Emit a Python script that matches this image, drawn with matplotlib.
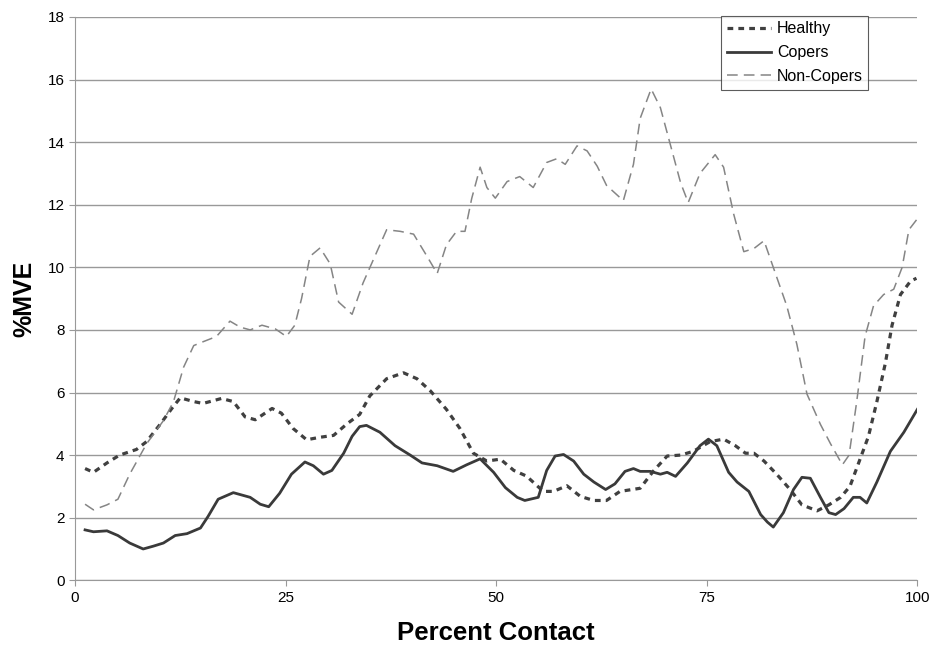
import matplotlib
matplotlib.use("Agg")
import matplotlib.pyplot as plt

plt.rcParams['font.family'] = ['Liberation Sans', 'DejaVu Sans']

# Healthy
x_healthy = [1.2, 2.2, 3.8, 5.3, 7.3, 8.5, 10.1, 11.5, 12.5, 14.1, 15.2, 17.4, 18.8, 20.2,
             21.4, 23.4, 24.5, 25.9, 27.5, 29.1, 30.7, 32.3, 33.8, 35.0, 37.0, 39.0, 40.6,
             42.2, 44.1, 45.7, 47.3, 48.9, 50.5, 52.1, 53.6, 55.6, 56.8, 58.4, 60.0, 61.6,
             63.1, 64.7, 67.1, 68.7, 70.3, 71.9, 73.4, 75.4, 77.0, 78.4, 79.6, 80.6, 81.8,
             83.3, 84.9, 86.3, 88.1, 89.5, 90.9, 92.0, 93.2, 94.2, 95.2, 96.2, 97.0, 98.0,
             99.2, 99.9]
y_healthy = [3.57, 3.45, 3.75, 4.0, 4.18, 4.43, 4.98, 5.49, 5.83, 5.71, 5.65, 5.81, 5.71, 5.22,
             5.13, 5.49, 5.34, 4.85, 4.49, 4.57, 4.63, 5.0, 5.3, 5.89, 6.44, 6.63, 6.44,
             6.05, 5.46, 4.85, 4.06, 3.81, 3.87, 3.51, 3.33, 2.84, 2.84, 3.02, 2.68, 2.55,
             2.55, 2.84, 2.94, 3.5, 3.97, 4.0, 4.12, 4.43, 4.51, 4.3, 4.06, 4.06, 3.81,
             3.39, 2.9, 2.41, 2.22, 2.41, 2.65, 3.0, 3.87, 4.6, 5.71, 6.93, 8.15, 9.13,
             9.56, 9.65]

# Copers
x_copers = [1.2, 2.2, 3.8, 5.1, 6.5, 8.1, 9.3, 10.5, 11.9, 13.3, 14.9, 15.8, 17.0, 18.8,
            20.8, 22.0, 23.0, 24.3, 25.7, 27.3, 28.3, 29.5, 30.5, 31.9, 32.9, 33.8, 34.6,
            36.2, 38.0, 39.8, 41.2, 43.0, 44.9, 46.5, 48.1, 49.7, 51.1, 52.5, 53.4, 55.0,
            56.0, 57.0, 58.0, 59.2, 60.4, 61.6, 63.0, 64.1, 65.3, 66.3, 67.1, 68.3, 69.5,
            70.3, 71.3, 72.7, 74.2, 75.2, 76.2, 77.6, 78.6, 80.0, 81.4, 82.2, 82.9, 84.1,
            85.3, 86.3, 87.3, 88.5, 89.5, 90.3, 91.3, 92.4, 93.2, 94.0, 95.2, 96.8, 98.4,
            100.0]
y_copers = [1.61, 1.55, 1.58, 1.43, 1.19, 1.0, 1.09, 1.19, 1.43, 1.49, 1.67, 2.04, 2.59, 2.8,
            2.65, 2.43, 2.35, 2.78, 3.39, 3.78, 3.66, 3.39, 3.51, 4.06, 4.6, 4.91, 4.95,
            4.73, 4.3, 4.0, 3.75, 3.66, 3.48, 3.69, 3.88, 3.45, 2.96, 2.65, 2.55, 2.65,
            3.51, 3.97, 4.02, 3.81, 3.39, 3.14, 2.9, 3.08, 3.48, 3.57, 3.48, 3.48, 3.39,
            3.45, 3.32, 3.75, 4.3, 4.51, 4.3, 3.45, 3.14, 2.84, 2.1, 1.86, 1.7, 2.16,
            2.9, 3.29, 3.26, 2.65, 2.16, 2.1, 2.29, 2.65, 2.65, 2.47, 3.14, 4.12, 4.73,
            5.46]

# Non-Copers
x_noncopers = [1.2, 2.2, 3.8, 5.1, 6.5, 8.5, 10.5, 11.7, 12.9, 14.1, 15.0, 16.8, 18.4, 19.6,
               20.8, 22.2, 23.8, 25.1, 26.1, 26.9, 27.9, 29.1, 30.3, 31.3, 32.9, 34.2, 35.4,
               37.0, 38.6, 40.2, 41.8, 43.0, 44.1, 45.3, 46.3, 47.1, 48.1, 48.9, 49.9, 51.3,
               52.8, 54.4, 56.0, 57.2, 58.2, 59.6, 60.8, 62.0, 63.1, 65.1, 66.3, 67.1, 68.4,
               69.5, 70.7, 71.9, 72.8, 74.2, 76.0, 77.0, 78.2, 79.4, 80.6, 81.8, 82.9, 84.5,
               85.7, 86.9, 88.5, 89.7, 91.1, 91.9, 92.8, 93.8, 94.8, 96.0, 97.2, 98.2, 99.0,
               100.0]
y_noncopers = [2.43, 2.25, 2.41, 2.59, 3.39, 4.36, 5.1, 5.71, 6.81, 7.5, 7.6, 7.79, 8.28, 8.09,
               8.0, 8.15, 8.03, 7.79, 8.15, 9.0, 10.35, 10.62, 10.11, 8.89, 8.5, 9.5, 10.23,
               11.2, 11.15, 11.06, 10.35, 9.8, 10.72, 11.15, 11.15, 12.2, 13.2, 12.55, 12.21, 12.74,
               12.9, 12.55, 13.35, 13.47, 13.29, 13.88, 13.72, 13.23, 12.62, 12.13, 13.29, 14.76, 15.7,
               15.1, 13.9, 12.7, 12.07, 13.0, 13.6, 13.2, 11.7, 10.5, 10.6, 10.85, 10.0, 8.77,
               7.54, 5.95, 4.98, 4.36, 3.69, 4.0, 5.7, 7.8, 8.77, 9.13, 9.3, 10.0, 11.2,
               11.55]

fig = plt.figure(figsize=(9.37, 6.52), dpi=100)
ax = fig.add_axes([0.080, 0.110, 0.899, 0.864])

ax.plot(x_healthy, y_healthy, color='#404040', linewidth=2.3, linestyle=(0, (1.8, 1.6)),
        label='Healthy')
ax.plot(x_copers, y_copers, color='#3a3a3a', linewidth=2.0, linestyle='-', label='Copers')
ax.plot(x_noncopers, y_noncopers, color='#858585', linewidth=1.1, linestyle=(0, (7, 4)),
        label='Non-Copers')

ax.set_xlim(0, 100)
ax.set_ylim(0, 18)
ax.set_xticks([0, 25, 50, 75, 100])
ax.set_yticks(range(0, 19, 2))
ax.yaxis.grid(True, color='#999999', linewidth=1.0)
ax.set_axisbelow(True)
for s in ['top', 'right']:
    ax.spines[s].set_visible(False)
for s in ['left', 'bottom']:
    ax.spines[s].set_color('#999999')
ax.tick_params(axis='both', colors='#999999', labelcolor='black', labelsize=11, length=4)

ax.set_xlabel('Percent Contact', fontsize=18.5, fontweight='bold', labelpad=12)
ax.set_ylabel('%MVE', fontsize=18, fontweight='bold', labelpad=8)

leg = ax.legend(loc='upper right', bbox_to_anchor=(0.942, 1.002), fontsize=11.5, frameon=True,
                fancybox=False, handlelength=2.8, borderpad=0.35, labelspacing=0.55,
                handletextpad=0.35, borderaxespad=0)
leg.get_frame().set_edgecolor('#333333')
leg.get_frame().set_linewidth(0.8)

fig.savefig('out.png', dpi=100)
